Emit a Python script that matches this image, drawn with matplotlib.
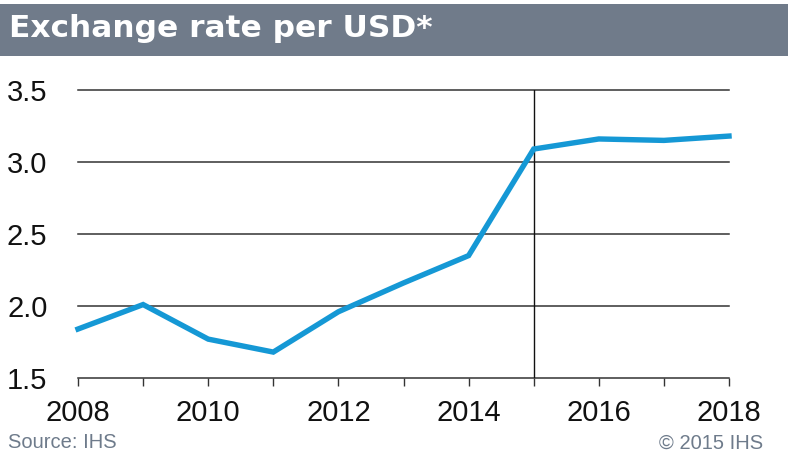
import matplotlib
matplotlib.use('Agg')
import matplotlib.pyplot as plt
from matplotlib.patches import Rectangle

plt.rcParams['font.family'] = ['Liberation Sans', 'DejaVu Sans']

# --------------------------------Data----------------------------------------------------------------------------------
years = [2008, 2009, 2010, 2011, 2012, 2013, 2014, 2015, 2016, 2017, 2018]
rate = [1.84, 2.01, 1.77, 1.68, 1.96, 2.16, 2.35, 3.09, 3.16, 3.15, 3.18]
y_ticks = [1.5, 2.0, 2.5, 3.0, 3.5]
x_labels = [2008, 2010, 2012, 2014, 2016, 2018]
forecast_start = 2015

title = 'Exchange rate per USD*'
source = 'Source: IHS'
copyright_txt = '\u00a9 2015 IHS'

# --------------------------------Figure--------------------------------------------------------------------------------
fig = plt.figure(figsize=(7.88, 4.62), dpi=100)
W, H = 788, 462

# title bar
fig.patches.append(Rectangle((0, 1 - 56 / H), 1, 52 / H, transform=fig.transFigure,
                             facecolor='#707b8a', edgecolor='none', zorder=0))
# the original title is a wide sans bold, DejaVu Sans Bold is closest in width
fig.text(9 / W, 1 - 37 / H, title, color='white', fontsize=22.5, fontweight='bold',
         family='DejaVu Sans', va='baseline', ha='left')

ax = fig.add_axes([78 / W, 1 - 378 / H, (729 - 78) / W, (378 - 90) / H])
ax.set_xlim(2008, 2018)
ax.set_ylim(1.5, 3.5)

for t in y_ticks:
    ax.axhline(t, color='#333333', lw=1.1, zorder=1, clip_on=False)
ax.axvline(forecast_start, color='#111111', lw=1.0, zorder=1)

ax.plot(years, rate, color='#1598d5', lw=3.9, solid_joinstyle='miter', zorder=3, clip_on=False)

for s in ax.spines.values():
    s.set_visible(False)

ax.set_yticks(y_ticks)
ax.set_yticklabels([f'{v:.1f}' for v in y_ticks])
ax.tick_params(axis='y', length=0, pad=22, labelsize=21, labelcolor='#111111')

ax.set_xticks(years)
ax.set_xticklabels([str(y) if y in x_labels else '' for y in years])
ax.tick_params(axis='x', direction='out', length=6, width=1.0, color='#333333',
               pad=9, labelsize=21, labelcolor='#111111')

fig.text(8 / W, 1 - 443 / H, source, color='#6e7b8b', fontsize=14.5, va='center', ha='left')
fig.text(763 / W, 1 - 443 / H, copyright_txt, color='#6e7b8b', fontsize=14.5, va='center', ha='right')

plt.savefig('out.png', dpi=100)
